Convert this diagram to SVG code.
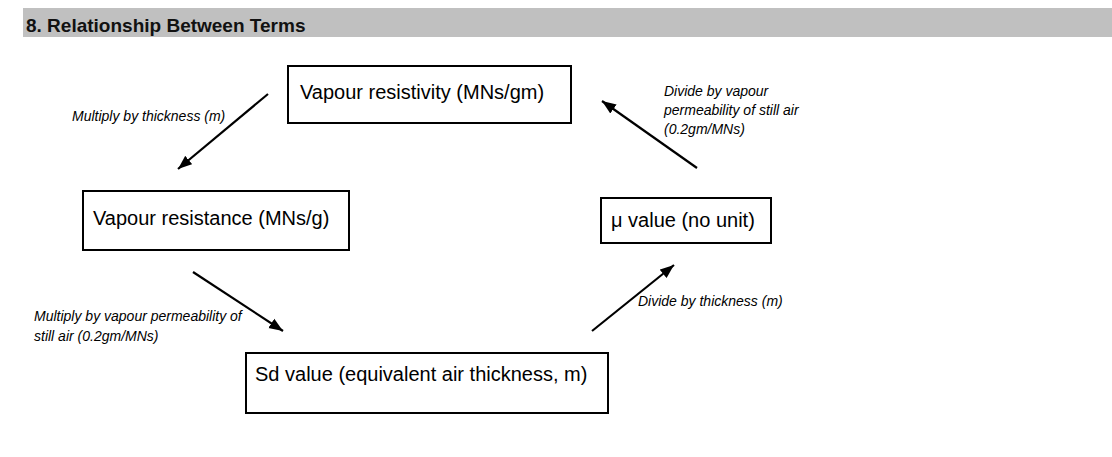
<svg xmlns="http://www.w3.org/2000/svg" width="1112" height="457" viewBox="0 0 1112 457">
<defs>
<marker id="ah" markerUnits="userSpaceOnUse" markerWidth="15" markerHeight="12" refX="14" refY="6" orient="auto">
<path d="M0,0.5 L14,6 L0,11.5 z" fill="#000"/>
</marker>
<style>
.box{fill:#fff;stroke:#000;stroke-width:2}
.bt{font-family:"Liberation Sans",Arial,sans-serif;font-size:20px;fill:#000}
.lb{font-family:"Liberation Sans",Arial,sans-serif;font-size:14px;font-style:italic;fill:#000}
.ar{stroke:#000;stroke-width:2.2;fill:none;marker-end:url(#ah)}
</style>
</defs>
<rect width="1112" height="457" fill="#fff"/>
<g id="header">
<rect x="23" y="8" width="1089" height="29" fill="#c0c0c0"/>
<text x="26" y="32" font-family="'Liberation Sans',Arial,sans-serif" font-size="19" font-weight="bold" fill="#111">8. Relationship Between Terms</text>
</g>
<g id="connectors">
<line class="ar" x1="268" y1="94" x2="178" y2="169"/>
<line class="ar" x1="193" y1="272" x2="283" y2="331"/>
<line class="ar" x1="592" y1="331" x2="674" y2="265"/>
<line class="ar" x1="697" y1="168" x2="602" y2="101"/>
<text class="lb" x="72" y="121">Multiply by thickness (m)</text>
<text class="lb" x="34" y="321">Multiply by vapour permeability of</text>
<text class="lb" x="34" y="341">still air (0.2gm/MNs)</text>
<text class="lb" x="638" y="306">Divide by thickness (m)</text>
<text class="lb" x="664" y="96">Divide by vapour</text>
<text class="lb" x="664" y="115">permeability of still air</text>
<text class="lb" x="664" y="134">(0.2gm/MNs)</text>
</g>
<g id="node-resistivity">
<rect class="box" x="288" y="66" width="283" height="57"/>
<text class="bt" x="300" y="99">Vapour resistivity (MNs/gm)</text>
</g>
<g id="node-resistance">
<rect class="box" x="83" y="191" width="266" height="59"/>
<text class="bt" x="93" y="225">Vapour resistance (MNs/g)</text>
</g>
<g id="node-mu">
<rect class="box" x="601" y="198" width="170" height="45"/>
<text class="bt" x="611" y="227">μ value (no unit)</text>
</g>
<g id="node-sd">
<rect class="box" x="246" y="353" width="362" height="60"/>
<text class="bt" x="255" y="381">Sd value (equivalent air thickness, m)</text>
</g>
</svg>
